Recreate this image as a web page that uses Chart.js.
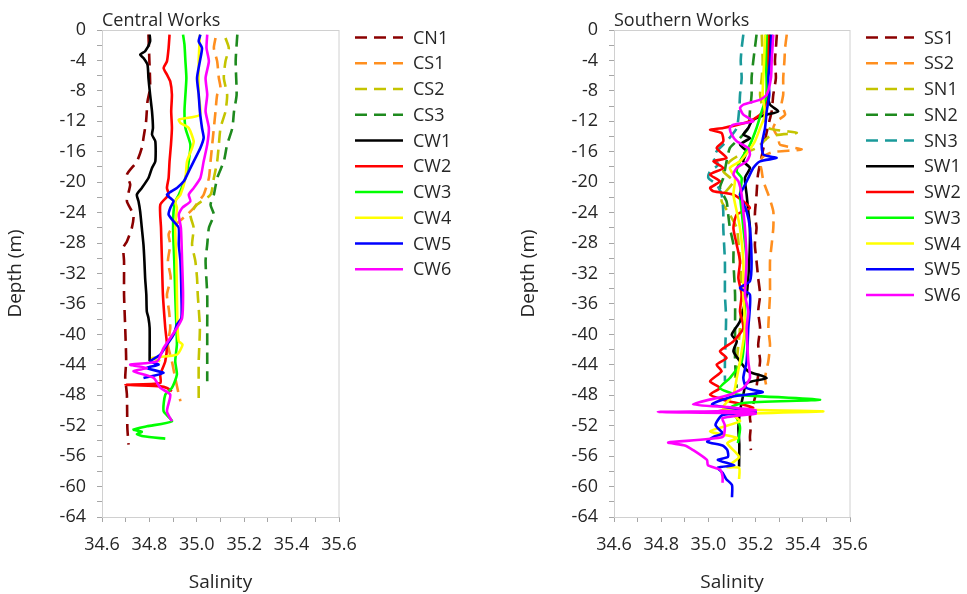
<!DOCTYPE html>
<html>
<head>
<meta charset="utf-8">
<script src="https://cdn.jsdelivr.net/npm/chart.js@4.4.1/dist/chart.umd.min.js"></script>
<style>
  html, body { margin: 0; padding: 0; background: #fff; }
  .panel { position: absolute; top: 0; height: 594px; }
  #leftBox { left: 0; width: 483px; }
  #rightBox { left: 483px; width: 484px; }
</style>
</head>
<body>
<div class="panel" id="leftBox"><canvas id="centralChart"></canvas></div>
<div class="panel" id="rightBox"><canvas id="southernChart"></canvas></div>
<script>
// tick values
const salinityTicks = [34.6, 34.8, 35.0, 35.2, 35.4, 35.6];
const depthTicks = [0, -4, -8, -12, -16, -20, -24, -28, -32, -36, -40, -44, -48, -52, -56, -60, -64];

// ---- Central Works ----
const CN1_depth = [-0.6, -4.1, -7.6, -9.4, -12.0, -14.2, -15.5, -17.3, -19.0, -20.3, -22.5, -24.3, -26.0, -27.8, -28.6, -30.4, -34.8, -39.2, -43.5, -45.7, -47.9, -52.3, -54.5];
const CN1_sal = [34.796, 34.800, 34.803, 34.792, 34.786, 34.775, 34.768, 34.747, 34.705, 34.719, 34.705, 34.733, 34.726, 34.705, 34.690, 34.693, 34.693, 34.698, 34.702, 34.698, 34.705, 34.707, 34.712];

const CS1_depth = [-1.05, -2.37, -4.12, -6.31, -7.62, -8.50, -10.69, -12.88, -15.07, -17.26, -19.45, -21.64, -22.51, -23.39, -24.27, -26.02, -26.89, -28.21, -30.40, -32.59, -34.78, -36.97, -39.16, -41.35, -43.54, -45.73, -47.92, -48.79];
const CS1_sal = [35.079, 35.072, 35.086, 35.093, 35.100, 35.086, 35.079, 35.072, 35.065, 35.058, 35.051, 35.029, 35.008, 34.987, 34.959, 34.895, 34.881, 34.888, 34.878, 34.890, 34.874, 34.883, 34.888, 34.878, 34.895, 34.909, 34.924, 34.931];

const CS2_depth = [-1.05, -2.37, -4.12, -6.31, -8.50, -10.69, -12.88, -15.07, -17.26, -19.45, -21.64, -22.95, -24.27, -26.02, -28.21, -30.40, -32.59, -34.78, -39.16, -43.54, -48.36];
const CS2_sal = [35.121, 35.135, 35.121, 35.114, 35.128, 35.121, 35.100, 35.093, 35.086, 35.072, 35.058, 35.001, 34.973, 34.987, 34.980, 34.994, 35.001, 35.004, 35.013, 35.008, 35.008];

const CS3_depth = [-0.61, -4.12, -8.50, -10.69, -12.88, -15.07, -17.26, -19.45, -21.64, -22.95, -24.27, -26.02, -28.21, -30.40, -34.78, -39.16, -43.54, -46.17];
const CS3_sal = [35.171, 35.164, 35.168, 35.157, 35.150, 35.128, 35.114, 35.086, 35.072, 35.058, 35.072, 35.051, 35.044, 35.037, 35.044, 35.044, 35.044, 35.044];

const CW1_depth = [-0.61, -1.49, -2.80, -3.24, -3.68, -4.56, -6.31, -8.50, -10.69, -12.88, -13.75, -14.63, -17.26, -18.13, -19.45, -20.76, -21.64, -22.51, -23.83, -26.02, -28.21, -30.40, -32.59, -34.78, -36.97, -37.84, -39.16, -43.10, -43.54];
const CW1_sal = [34.801, 34.803, 34.782, 34.761, 34.775, 34.792, 34.796, 34.803, 34.811, 34.815, 34.811, 34.825, 34.825, 34.811, 34.796, 34.768, 34.747, 34.754, 34.761, 34.768, 34.775, 34.779, 34.782, 34.787, 34.789, 34.796, 34.801, 34.801, 34.801];

const CW2_depth = [-0.61, -2.37, -4.12, -4.99, -5.87, -6.75, -8.50, -10.69, -12.88, -15.07, -17.26, -19.45, -20.76, -21.64, -22.95, -26.02, -30.40, -34.78, -39.16, -41.35, -43.54, -45.29, -46.39, -46.61, -46.83, -47.04, -47.48];
const CW2_sal = [34.885, 34.881, 34.874, 34.860, 34.874, 34.888, 34.895, 34.892, 34.895, 34.891, 34.885, 34.881, 34.874, 34.881, 34.846, 34.849, 34.853, 34.857, 34.867, 34.874, 34.867, 34.846, 34.846, 34.698, 34.846, 34.874, 34.895];

const CW3_depth = [-0.61, -1.93, -4.12, -6.31, -8.50, -10.69, -12.88, -15.07, -17.26, -19.45, -21.64, -22.51, -23.83, -26.02, -28.21, -30.40, -34.78, -39.16, -41.35, -43.54, -45.29, -47.04, -47.92, -50.11, -51.42, -52.08, -52.50, -52.80, -53.10, -53.40, -53.70];
const CW3_sal = [34.942, 34.948, 34.952, 34.956, 34.952, 34.948, 34.952, 34.973, 34.966, 34.952, 34.924, 34.909, 34.902, 34.900, 34.902, 34.905, 34.909, 34.914, 34.916, 34.909, 34.916, 34.895, 34.867, 34.860, 34.895, 34.789, 34.733, 34.768, 34.747, 34.775, 34.867];

const CW4_depth = [-0.61, -4.12, -8.50, -11.13, -11.78, -12.22, -12.88, -14.63, -15.51, -17.26, -19.45, -21.64, -22.51, -23.39, -26.02, -30.40, -34.78, -39.16, -40.91, -41.35, -42.66, -43.10, -43.54];
const CW4_sal = [35.013, 35.008, 35.008, 35.013, 34.924, 34.931, 34.966, 34.987, 34.980, 34.959, 34.952, 34.931, 34.909, 34.916, 34.909, 34.914, 34.916, 34.919, 34.924, 34.940, 34.916, 34.812, 34.846];

const CW5_depth = [-0.61, -1.49, -2.37, -4.12, -6.31, -8.50, -10.69, -12.88, -14.19, -15.51, -17.26, -18.57, -19.89, -20.76, -21.64, -22.08, -22.51, -23.39, -24.27, -25.14, -26.02, -28.21, -30.40, -34.78, -37.84, -38.72, -40.04, -41.35, -42.66, -43.54, -43.98, -44.42, -45.07, -45.73];
const CW5_sal = [35.015, 35.008, 35.022, 35.013, 35.001, 35.008, 35.013, 35.022, 35.029, 35.015, 34.987, 34.966, 34.945, 34.916, 34.874, 34.888, 34.902, 34.888, 34.881, 34.902, 34.924, 34.924, 34.931, 34.935, 34.935, 34.916, 34.902, 34.874, 34.846, 34.803, 34.839, 34.789, 34.860, 34.775];

const CW6_depth = [-0.61, -2.37, -4.12, -6.31, -8.50, -10.69, -12.88, -15.07, -17.26, -19.45, -20.76, -21.64, -22.51, -23.39, -24.27, -26.02, -30.40, -34.78, -37.84, -39.16, -40.47, -41.79, -43.54, -43.98, -44.42, -44.85, -45.73, -47.04, -47.92, -50.11, -51.42];
const CW6_sal = [35.044, 35.041, 35.051, 35.037, 35.044, 35.037, 35.051, 35.044, 35.029, 35.015, 34.987, 34.966, 34.973, 34.938, 34.924, 34.933, 34.938, 34.942, 34.938, 34.916, 34.888, 34.860, 34.832, 34.719, 34.789, 34.733, 34.818, 34.846, 34.888, 34.874, 34.895];

// ---- Southern Works ----
const SS1_depth = [-0.6, -2.4, -4.1, -6.3, -8.5, -10.7, -13.0, -16.0, -19.0, -21.6, -24.3, -26.0, -28.2, -30.4, -32.6, -34.8, -37.0, -39.2, -41.4, -43.5, -46.4, -48.0, -50.8, -52.0, -53.5, -55.2];
const SS1_sal = [35.290, 35.286, 35.282, 35.286, 35.275, 35.268, 35.250, 35.230, 35.210, 35.204, 35.197, 35.204, 35.197, 35.204, 35.211, 35.219, 35.211, 35.219, 35.211, 35.219, 35.206, 35.200, 35.176, 35.180, 35.176, 35.180];

const SS2_depth = [-0.61, -2.37, -4.12, -6.31, -8.50, -9.81, -11.13, -12.00, -12.88, -14.19, -15.07, -15.70, -16.03, -16.60, -17.26, -18.57, -19.89, -21.64, -23.83, -26.02, -28.21, -30.40, -34.78, -39.16, -41.35, -43.54, -45.73, -47.04];
const SS2_sal = [35.332, 35.325, 35.322, 35.317, 35.317, 35.310, 35.325, 35.289, 35.275, 35.296, 35.303, 35.395, 35.275, 35.233, 35.219, 35.226, 35.233, 35.254, 35.275, 35.275, 35.268, 35.261, 35.261, 35.254, 35.261, 35.254, 35.240, 35.247];

const SN1_depth = [-0.61, -4.12, -6.31, -8.50, -10.69, -12.88, -13.49, -13.97, -15.51, -16.38, -17.26, -18.57, -19.89, -21.64, -22.51, -24.27, -26.02, -30.40, -34.78, -39.16, -43.54, -45.73];
const SN1_sal = [35.226, 35.230, 35.226, 35.219, 35.233, 35.254, 35.375, 35.261, 35.204, 35.134, 35.091, 35.063, 35.106, 35.063, 35.056, 35.091, 35.120, 35.134, 35.141, 35.134, 35.120, 35.113];

const SN2_depth = [-0.61, -2.37, -4.12, -6.31, -8.50, -10.69, -12.88, -14.19, -15.51, -17.26, -19.45, -20.76, -22.51, -24.27, -26.02, -28.21, -30.40, -34.78, -39.16, -43.54, -47.04];
const SN2_sal = [35.204, 35.197, 35.190, 35.183, 35.183, 35.176, 35.169, 35.134, 35.091, 35.077, 35.063, 35.049, 35.077, 35.084, 35.091, 35.106, 35.106, 35.113, 35.113, 35.113, 35.120];

const SN3_depth = [-0.61, -2.37, -4.12, -6.31, -8.50, -10.25, -12.88, -14.63, -15.94, -16.82, -17.70, -18.57, -19.45, -20.32, -21.64, -23.83, -26.02, -30.40, -34.78, -37.84, -43.54, -46.17];
const SN3_sal = [35.148, 35.141, 35.137, 35.141, 35.134, 35.131, 35.120, 35.077, 35.035, 35.021, 35.042, 35.007, 35.000, 35.035, 35.056, 35.063, 35.063, 35.070, 35.070, 35.075, 35.070, 35.070];

const SW1_depth = [-0.61, -4.12, -8.50, -9.81, -10.69, -11.13, -11.56, -12.00, -12.88, -13.75, -14.19, -15.07, -15.94, -17.26, -18.13, -19.45, -21.64, -23.83, -26.02, -30.40, -34.78, -38.28, -40.04, -40.91, -42.22, -43.54, -44.85, -45.73, -46.39, -47.92, -50.11, -52.30, -54.49, -57.38];
const SW1_sal = [35.261, 35.254, 35.250, 35.261, 35.296, 35.247, 35.204, 35.183, 35.169, 35.148, 35.176, 35.134, 35.162, 35.148, 35.176, 35.155, 35.162, 35.169, 35.176, 35.173, 35.162, 35.134, 35.099, 35.120, 35.106, 35.134, 35.169, 35.247, 35.162, 35.148, 35.134, 35.127, 35.131, 35.130];

const SW2_depth = [-0.61, -4.12, -8.50, -10.69, -12.00, -12.88, -13.10, -13.53, -14.63, -15.51, -16.82, -17.26, -18.13, -19.01, -19.89, -20.76, -21.20, -21.64, -22.51, -23.39, -24.27, -26.02, -28.21, -30.40, -32.59, -34.78, -36.97, -39.16, -40.91, -42.22, -43.10, -43.98, -44.85, -46.17, -47.04, -47.92, -48.58, -49.67, -50.11, -50.55];
const SW2_sal = [35.254, 35.251, 35.247, 35.233, 35.176, 35.063, 35.007, 35.056, 35.063, 35.035, 35.077, 35.021, 35.063, 35.007, 35.049, 35.007, 35.021, 35.106, 35.148, 35.176, 35.120, 35.106, 35.120, 35.134, 35.127, 35.141, 35.134, 35.148, 35.106, 35.049, 35.077, 35.035, 35.056, 35.007, 35.049, 35.007, 35.063, 35.190, 35.035, 35.106];

const SW3_depth = [-0.61, -4.12, -8.50, -10.69, -12.88, -15.07, -17.26, -18.57, -19.45, -21.64, -23.83, -26.02, -30.40, -34.78, -39.16, -43.54, -45.73, -47.04, -47.92, -48.58, -49.01, -49.67, -50.98, -52.30, -54.30];
const SW3_sal = [35.247, 35.244, 35.247, 35.226, 35.204, 35.176, 35.134, 35.120, 35.141, 35.134, 35.141, 35.148, 35.162, 35.155, 35.155, 35.141, 35.091, 35.049, 35.120, 35.473, 35.148, 35.091, 35.120, 35.134, 35.125];

const SW4_depth = [-0.61, -4.12, -8.50, -11.13, -12.88, -14.63, -15.94, -17.26, -18.13, -19.45, -21.64, -23.83, -26.02, -30.40, -34.78, -39.16, -43.54, -45.73, -47.92, -49.67, -50.11, -50.55, -51.42, -52.74, -53.61, -54.31, -56.11, -57.42, -57.55, -59.00];
const SW4_sal = [35.240, 35.236, 35.230, 35.240, 35.219, 35.197, 35.169, 35.134, 35.091, 35.113, 35.106, 35.120, 35.134, 35.148, 35.148, 35.155, 35.134, 35.120, 35.106, 35.063, 35.487, 35.106, 35.134, 35.007, 35.120, 35.080, 35.130, 35.080, 35.130, 35.130];

const SW5_depth = [-0.61, -4.12, -6.31, -8.50, -10.69, -12.88, -15.07, -16.38, -16.82, -17.26, -18.13, -19.45, -20.76, -21.64, -23.83, -26.02, -30.40, -33.03, -33.90, -34.78, -39.16, -43.54, -45.73, -47.04, -47.60, -48.20, -49.20, -49.80, -50.20, -50.60, -51.90, -53.00, -53.50, -54.10, -54.60, -55.20, -56.10, -56.50, -57.20, -57.50, -58.20, -59.00, -59.80, -61.40];
const SW5_sal = [35.268, 35.261, 35.254, 35.258, 35.247, 35.240, 35.226, 35.233, 35.289, 35.219, 35.190, 35.169, 35.148, 35.134, 35.162, 35.176, 35.183, 35.176, 35.134, 35.176, 35.169, 35.162, 35.148, 35.162, 35.230, 35.100, 35.015, 35.120, 35.200, 35.060, 35.030, 35.060, 35.020, 34.995, 35.060, 35.080, 35.083, 35.040, 35.110, 35.040, 35.060, 35.075, 35.100, 35.100];

const SW6_depth = [-0.61, -4.12, -6.31, -8.50, -9.15, -9.81, -10.25, -11.13, -12.00, -12.44, -12.88, -13.75, -14.63, -15.51, -16.38, -17.26, -18.13, -19.01, -19.89, -21.64, -23.83, -26.02, -30.40, -34.78, -36.97, -39.16, -43.54, -45.73, -47.04, -47.92, -49.20, -49.60, -50.00, -50.20, -50.40, -51.00, -52.00, -53.50, -54.20, -54.60, -55.20, -56.50, -57.20, -57.80, -58.70, -59.50];
const SW6_sal = [35.275, 35.268, 35.265, 35.247, 35.219, 35.148, 35.134, 35.148, 35.190, 35.106, 35.091, 35.099, 35.120, 35.169, 35.176, 35.162, 35.120, 35.106, 35.127, 35.141, 35.148, 35.155, 35.162, 35.155, 35.169, 35.162, 35.169, 35.176, 35.148, 35.091, 34.935, 35.100, 35.200, 34.786, 35.200, 35.060, 35.070, 35.060, 34.830, 34.900, 34.935, 34.994, 34.998, 35.050, 35.060, 35.060];

const DASH = [12, 7];
const textColor = '#262626';
const axisColor = '#a6a6a6';

Chart.defaults.font.family = '"Open Sans", sans-serif';
Chart.defaults.font.size = 18;
Chart.defaults.color = textColor;

function series(label, depth, sal, color, dashed) {
  return {
    label: label,
    data: depth.map((d, i) => ({ x: sal[i], y: d })),
    borderColor: color,
    backgroundColor: color,
    borderWidth: 2.6,
    borderDash: dashed ? DASH : [],
    showLine: true,
    pointRadius: 0,
    tension: 0.2,
    fill: false
  };
}

// frame, panel title and legend
const panelDecor = {
  id: 'panelDecor',
  beforeDatasetsDraw(chart) {
    const { ctx, chartArea: a } = chart;
    ctx.save();
    ctx.strokeStyle = '#d0d0d0';
    ctx.lineWidth = 1;
    ctx.strokeRect(a.left + 0.5, a.top + 0.5, a.width - 0.5, a.height);
    ctx.restore();
  },
  afterDraw(chart, args, opts) {
    const { ctx, chartArea: a } = chart;
    ctx.save();
    ctx.fillStyle = textColor;
    ctx.font = '18px "Open Sans", sans-serif';
    ctx.textBaseline = 'alphabetic';
    ctx.textAlign = 'left';
    ctx.fillText(opts.title, a.left, 26);
    ctx.textBaseline = 'middle';
    chart.data.datasets.forEach((ds, i) => {
      const y = opts.legendTop + i * opts.legendStep;
      ctx.strokeStyle = ds.borderColor;
      ctx.lineWidth = 2.6;
      ctx.setLineDash(ds.borderDash);
      ctx.beginPath();
      ctx.moveTo(opts.legendX, y);
      ctx.lineTo(opts.legendX + 48, y);
      ctx.stroke();
      ctx.setLineDash([]);
      ctx.fillText(ds.label, opts.legendX + 58, y + 1);
    });
    ctx.restore();
  }
};

function makeChart(canvasId, datasets, title, padLeft, yWidth, padRight, legendX) {
  const n = datasets.length;
  datasets.forEach((ds, i) => { ds.order = n - i; });
  return new Chart(document.getElementById(canvasId), {
    type: 'scatter',
    data: { datasets: datasets },
    plugins: [panelDecor],
    options: {
      responsive: true,
      maintainAspectRatio: false,
      animation: false,
      layout: { padding: { top: 30, left: padLeft, right: padRight, bottom: 0 } },
      plugins: {
        legend: { display: false },
        tooltip: { enabled: false },
        panelDecor: { title: title, legendX: legendX, legendTop: 37.5, legendStep: 25.75 }
      },
      scales: {
        x: {
          type: 'linear',
          min: salinityTicks[0],
          max: salinityTicks[salinityTicks.length - 1],
          afterFit: (s) => { s.height = 77; },
          border: { color: axisColor },
          grid: { drawOnChartArea: false, tickLength: 5, color: axisColor },
          ticks: {
            stepSize: 0.1,
            autoSkip: false,
            maxRotation: 0,
            padding: 12,
            callback: (v) => salinityTicks.some(t => Math.abs(t - v) < 1e-6) ? v.toFixed(1) : ''
          },
          title: { display: true, text: 'Salinity', font: { size: 19 }, padding: { top: 0, bottom: 0 } }
        },
        y: {
          type: 'linear',
          min: depthTicks[depthTicks.length - 1],
          max: depthTicks[0],
          afterFit: (s) => { s.width = yWidth; },
          border: { color: axisColor },
          grid: { drawOnChartArea: false, tickLength: 5, color: axisColor },
          ticks: {
            stepSize: 2,
            autoSkip: false,
            padding: 11,
            callback: (v) => depthTicks.includes(v) ? String(v) : ''
          },
          title: { display: true, text: 'Depth (m)', font: { size: 19 }, padding: { top: 4, bottom: 0 } }
        }
      }
    }
  });
}

makeChart('centralChart', [
  series('CN1', CN1_depth, CN1_sal, '#8B0000', true),
  series('CS1', CS1_depth, CS1_sal, '#FF8F1F', true),
  series('CS2', CS2_depth, CS2_sal, '#C4C400', true),
  series('CS3', CS3_depth, CS3_sal, '#1E8A1E', true),
  series('CW1', CW1_depth, CW1_sal, '#000000', false),
  series('CW2', CW2_depth, CW2_sal, '#FF0000', false),
  series('CW3', CW3_depth, CW3_sal, '#00FF00', false),
  series('CW4', CW4_depth, CW4_sal, '#FFFF00', false),
  series('CW5', CW5_depth, CW5_sal, '#0000FF', false),
  series('CW6', CW6_depth, CW6_sal, '#FF00FF', false)
], 'Central Works', 0, 102, 144, 355);

makeChart('southernChart', [
  series('SS1', SS1_depth, SS1_sal, '#8B0000', true),
  series('SS2', SS2_depth, SS2_sal, '#FF8F1F', true),
  series('SN1', SN1_depth, SN1_sal, '#C4C400', true),
  series('SN2', SN2_depth, SN2_sal, '#1E8A1E', true),
  series('SN3', SN3_depth, SN3_sal, '#1A9A9A', true),
  series('SW1', SW1_depth, SW1_sal, '#000000', false),
  series('SW2', SW2_depth, SW2_sal, '#FF0000', false),
  series('SW3', SW3_depth, SW3_sal, '#00FF00', false),
  series('SW4', SW4_depth, SW4_sal, '#FFFF00', false),
  series('SW5', SW5_depth, SW5_sal, '#0000FF', false),
  series('SW6', SW6_depth, SW6_sal, '#FF00FF', false)
], 'Southern Works', 30, 101, 117, 383);
</script>
</body>
</html>
